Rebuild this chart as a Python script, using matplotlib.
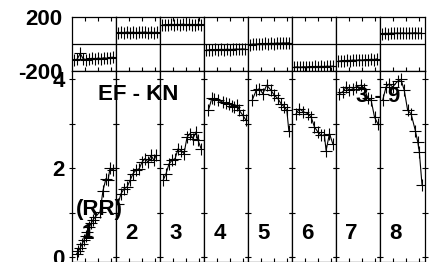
import matplotlib
matplotlib.use("Agg")
import matplotlib.pyplot as plt

plt.rcParams['font.family'] = ['Liberation Sans', 'DejaVu Sans']
plt.rcParams['font.weight'] = 'bold'

# ---------------- data ----------------
segment_labels = ['1', '2', '3', '4', '5', '6', '7', '8']

# top panel (one horizontal series per segment)
top_x = [0.15, 0.38, 0.61, 0.84, 1.07, 1.30, 1.53, 1.76, 1.99, 2.22, 2.45, 2.68, 2.91, 3.14]
top_y1 = [-118, -112, -70, -110, -115, -110, -106, -112, -104, -108, -102, -106, -100, -98]
top_y2 = [84, 88, 85, 90, 86, 89, 84, 88, 87, 90, 85, 89, 86, 88]
top_y3 = [142, 146, 144, 148, 143, 147, 145, 149, 144, 147, 146, 143, 148, 145]
top_y4 = [-45, -42, -44, -40, -43, -39, -42, -38, -41, -40, -37, -39, -36, -38]
top_y5 = [-3, 0, -1, 3, 1, 5, 2, 6, 4, 8, 5, 9, 7, 10]
top_y6 = [-172, -170, -173, -169, -171, -168, -170, -167, -169, -166, -168, -165, -167, -164]
top_y7 = [-127, -124, -126, -121, -123, -119, -122, -117, -120, -115, -118, -113, -116, -110]
top_y8 = [78, 81, 79, 82, 80, 83, 81, 84, 80, 83, 82, 85, 81, 83]

# bottom panel (EF - KN) per segment
bx1 = [0.34, 0.47, 0.60, 0.75, 0.90, 1.02, 1.14, 1.30, 1.45, 1.60, 1.75, 2.14, 2.37, 2.60, 2.76, 2.91, 3.15]
by1 = [0.08, 0.14, 0.20, 0.30, 0.38, 0.47, 0.57, 0.68, 0.76, 0.84, 0.90, 1.02, 1.50, 1.77, 1.73, 2.00, 1.96]
bx2 = [0.13, 0.36, 0.60, 0.83, 1.06, 1.29, 1.52, 1.76, 1.99, 2.22, 2.45, 2.68, 2.91, 3.07]
by2 = [1.20, 1.43, 1.54, 1.58, 1.73, 1.88, 1.96, 1.99, 2.14, 2.22, 2.14, 2.29, 2.18, 2.29]
bx3 = [0.21, 0.44, 0.67, 0.90, 1.14, 1.37, 1.60, 1.83, 2.06, 2.29, 2.52, 2.76, 2.91, 3.15]
by3 = [1.73, 1.88, 2.10, 2.18, 2.22, 2.44, 2.40, 2.33, 2.70, 2.78, 2.67, 2.82, 2.63, 2.44]
bx4 = [0.31, 0.57, 0.75, 1.04, 1.42, 1.68, 1.93, 2.14, 2.32, 2.53, 2.71, 2.97, 3.22]
by4 = [3.30, 3.57, 3.55, 3.53, 3.49, 3.47, 3.45, 3.40, 3.38, 3.42, 3.30, 3.19, 3.08]
bx5 = [0.29, 0.60, 0.85, 1.11, 1.42, 1.75, 2.01, 2.27, 2.53, 2.78, 2.97, 3.12]
by5 = [3.53, 3.75, 3.79, 3.68, 3.87, 3.75, 3.64, 3.57, 3.45, 3.38, 3.30, 2.85]
bx6 = [0.29, 0.54, 0.85, 1.19, 1.45, 1.70, 1.96, 2.22, 2.47, 2.60, 2.86, 3.12]
by6 = [3.23, 3.34, 3.27, 3.23, 3.15, 2.93, 2.82, 2.74, 2.74, 2.40, 2.78, 2.55]
bx7 = [0.23, 0.49, 0.75, 1.00, 1.27, 1.52, 1.91, 2.16, 2.43, 2.68, 2.94, 3.20]
by7 = [3.68, 3.72, 3.83, 3.75, 3.79, 3.83, 3.87, 3.79, 3.57, 3.53, 3.15, 3.00]
bx8 = [0.17, 0.43, 0.68, 0.94, 1.33, 1.58, 1.84, 2.10, 2.36, 2.69, 2.88, 3.00, 3.21]
by8 = [3.53, 3.83, 3.90, 3.83, 3.96, 4.00, 3.75, 3.30, 3.23, 2.85, 2.59, 2.37, 1.62]

top_series = [top_y1, top_y2, top_y3, top_y4, top_y5, top_y6, top_y7, top_y8]
bottom_x = [bx1, bx2, bx3, bx4, bx5, bx6, bx7, bx8]
bottom_y = [by1, by2, by3, by4, by5, by6, by7, by8]

top_yticks = [-200, 200]
bottom_yticks = [0, 1, 2, 3, 4]
bottom_yticklabels = ['0', '', '2', '', '4']
seg_xticks = [1, 2, 3]

# ---------------- layout ----------------
W, H = 432, 262
fig = plt.figure(figsize=(W / 100, H / 100), dpi=100)

left_px, right_px = 72.3, 424.5
seg_w = (right_px - left_px) / 8
top_top_px, mid_px = 17.3, 70.9

FS = 16
for i in range(8):
    x0 = (left_px + i * seg_w) / W
    # top panel
    axt = fig.add_axes([x0, 1 - mid_px / H, seg_w / W, (mid_px - top_top_px) / H])
    axt.plot(top_x, top_series[i], color='black', lw=0.8, marker='+', ms=8, mew=0.8)
    axt.axhline(0, color='black', lw=0.9)
    axt.set_xlim(0, 3.4)
    axt.set_ylim(-200, 200)
    axt.set_xticks(seg_xticks)
    axt.set_xticklabels([])
    axt.tick_params(axis='x', direction='in', top=True, bottom=True, length=3, width=0.8)
    axt.set_yticks(top_yticks)
    if i == 0:
        axt.set_yticklabels([str(v) for v in top_yticks], fontsize=FS, fontweight='bold')
    else:
        axt.set_yticklabels([])
    axt.tick_params(axis='y', length=0, pad=7)

    # bottom panel
    axb = fig.add_axes([x0, 0.0, seg_w / W, (H - mid_px) / H])
    axb.plot(bottom_x[i], bottom_y[i], color='black', lw=0.8, marker='+', ms=8, mew=0.8)
    axb.set_xlim(0, 3.4)
    axb.set_ylim(-0.106, 4.19)
    axb.set_xticks(seg_xticks)
    axb.set_xticklabels([])
    axb.tick_params(axis='x', direction='in', top=False, bottom=True, length=3, width=0.8)
    axb.set_yticks(bottom_yticks)
    if i == 0:
        axb.set_yticklabels(bottom_yticklabels, fontsize=FS, fontweight='bold')
    else:
        axb.set_yticklabels([])
    axb.tick_params(axis='y', direction='inout', left=True, right=True, length=5, width=0.8, pad=3)
    axb.text(1.18, 0.54, segment_labels[i], fontsize=FS, fontweight='bold',
             ha='center', va='center')
    for ax in (axt, axb):
        for sp in ax.spines.values():
            sp.set_linewidth(0.9)

def px(x, y):
    return x / W, 1 - y / H

fig.text(*px(138, 95), 'EF - KN', fontsize=FS, fontweight='bold', ha='center', va='center')
fig.text(*px(99, 210), '(RR)', fontsize=FS, fontweight='bold', ha='center', va='center')
fig.text(*px(378.5, 97), '3 - 9', fontsize=FS, fontweight='bold', ha='center', va='center')

fig.savefig('out.png', dpi=100)
